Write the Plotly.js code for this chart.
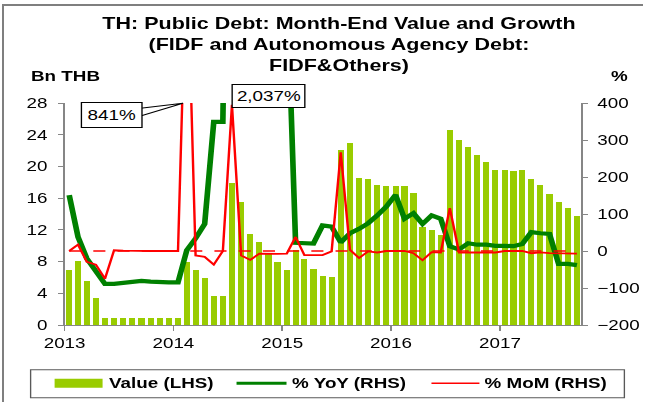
<!DOCTYPE html>
<html>
<head>
<meta charset="utf-8">
<script src="https://cdn.plot.ly/plotly-3.0.1.min.js"></script>
<style>
html,body{margin:0;padding:0;background:#fff;overflow:hidden;}
#wrap{position:absolute;left:0;top:0;width:646px;height:402px;overflow:hidden;background:#fff;}
#chart{position:absolute;left:0;top:0;width:480px;height:402px;transform-origin:0 0;transform:scaleX(1.3458333);}
.bl{position:absolute;background:#7f7f7f;}
</style>
</head>
<body>
<div id="wrap">
  <div id="chart"></div>
  <div class="bl" style="left:2px;top:4px;width:2px;height:398px;"></div>
  <div class="bl" style="left:2px;top:4px;width:641px;height:2px;"></div>
</div>
<script>
// ---- data ----
var months = [
 '2013-01','2013-02','2013-03','2013-04','2013-05','2013-06','2013-07','2013-08','2013-09','2013-10','2013-11','2013-12',
 '2014-01','2014-02','2014-03','2014-04','2014-05','2014-06','2014-07','2014-08','2014-09','2014-10','2014-11','2014-12',
 '2015-01','2015-02','2015-03','2015-04','2015-05','2015-06','2015-07','2015-08','2015-09','2015-10','2015-11','2015-12',
 '2016-01','2016-02','2016-03','2016-04','2016-05','2016-06','2016-07','2016-08','2016-09','2016-10','2016-11','2016-12',
 '2017-01','2017-02','2017-03','2017-04','2017-05','2017-06','2017-07','2017-08','2017-09'
];
var valueBn = [
 7.0, 8.1, 5.6, 3.4, 0.86, 0.86, 0.86, 0.86, 0.86, 0.86, 0.86, 0.86,
 0.86, 7.95, 7.0, 5.9, 3.7, 3.7, 17.9, 15.5, 11.5, 10.5, 9.0, 8.0,
 7.0, 9.5, 8.3, 7.1, 6.2, 6.1, 22.1, 23.0, 18.5, 18.4, 17.6, 17.5,
 17.5, 17.5, 16.6, 12.3, 12.0, 11.35, 24.6, 23.3, 22.4, 21.4, 20.5, 19.6,
 19.6, 19.4, 19.5, 18.4, 17.6, 16.5, 15.5, 14.7, 13.7
];
var yoyPct = [
 151, 38, -20, -52, -89, -89, -86, -83, -81, -83, -85, -85,
 -85, 2, 34, 73, 349, 349, 2037, 1745, 1269, 1150, 971, 852,
 733, 22, 20, 20, 69, 66, 23, 48, 60, 75, 96, 120,
 152, 87, 102, 73, 96, 87, 13, 4, 21, 17, 17, 14,
 14, 13, 19, 51, 48, 46, -35, -35, -38
];
var momPct = [
 0, 17, -29, -37, -75, 2, 1, 0, 0, 0, 0, 0,
 0, 841, -12, -16, -37, 0, 395, -12, -24, -7, -8, -8,
 -7, 38, -11, -11, -11, -1, 267, 3, -19, -1, -4, 0,
 0, 0, -6, -25, -3, -4, 116, -4, -4, -4, -4, -4,
 0, -1, 0, -6, -4, -6, -6, -5, -7
];
var yearTicks = ['2013-01-01','2014-01-01','2015-01-01','2016-01-01','2017-01-01'];
var yearLabels = ['2013','2014','2015','2016','2017'];
var titleLines = ['TH: Public Debt: Month-End Value and Growth','(FIDF and Autonomous Agency Debt:','FIDF&Others)'];
var seriesNames = ['Value (LHS)','% YoY (RHS)','% MoM (RHS)'];

// ---- styling helpers (positions measured on the 646x402 reference) ----
var FONT = 'Liberation Sans, Arial, sans-serif';
var px = function(X){ return (X - 65) / 517; };   // paper x from reference pixel
var py = function(Y){ return (325 - Y) / 223; };  // paper y from reference pixel
var S = 646 / 480;
var GREEN_BAR = '#99CC00', GREEN_LINE = '#008000', RED = '#FF0000', AXIS = '#868686';

var traces = [
 {type:'bar', x: months, y: valueBn, name: seriesNames[0], xperiod:'M1', xperiodalignment:'middle',
  width: 20.5*86400000, marker:{color: GREEN_BAR}, yaxis:'y', showlegend:false, hoverinfo:'x+y'},
 {type:'scatter', mode:'lines', x: months, y: yoyPct, name: seriesNames[1], xperiod:'M1', xperiodalignment:'middle',
  line:{color: GREEN_LINE, width: 4.2}, yaxis:'y2', showlegend:false},
 {type:'scatter', mode:'lines', x: months, y: momPct, name: seriesNames[2], xperiod:'M1', xperiodalignment:'middle',
  line:{color: RED, width: 1.8}, yaxis:'y2', showlegend:false}
];

var legY = py(383.5);
var calloutPath = 'M ' + px(141) + ' ' + py(107.3) + ' L ' + px(183.3) + ' ' + py(102.3) +
                  ' L ' + px(141) + ' ' + py(115) + ' Z';
var shapes = [
 // dashed zero reference line on the right axis
 {type:'line', xref:'x', yref:'y2', x0: months[0]+'-16', x1: months[months.length-1]+'-15', y0:0, y1:0,
  line:{color: RED, width:1.5, dash:'dash'}, layer:'above'},
 // callout wedge of the 841% label
 {type:'path', xref:'paper', yref:'paper', path: calloutPath, fillcolor:'#fff', line:{color:'#000', width:1}, layer:'above'},
 // legend frame and swatches
 {type:'rect', xref:'paper', yref:'paper', x0:px(31), x1:px(625), y0:py(398), y1:py(370),
  line:{color:'#595959', width:1}, fillcolor:'rgba(0,0,0,0)'},
 {type:'rect', xref:'paper', yref:'paper', x0:px(55), x1:px(103), y0:py(388), y1:py(379),
  line:{width:0}, fillcolor: GREEN_BAR},
 {type:'line', xref:'paper', yref:'paper', x0:px(237), x1:px(287), y0:legY, y1:legY,
  line:{color: GREEN_LINE, width:3}},
 {type:'line', xref:'paper', yref:'paper', x0:px(432), x1:px(480), y0:legY, y1:legY,
  line:{color: RED, width:1.5}}
];

var bold14 = {family: FONT, size: 14, color: '#000', weight: 'bold'};
var annotations = [
 {xref:'paper', yref:'paper', x:px(28), y:py(75), xanchor:'left', yanchor:'middle', text:'Bn THB', showarrow:false, font:bold14},
 {xref:'paper', yref:'paper', x:px(621), y:py(75), xanchor:'center', yanchor:'middle', text:'%', showarrow:false, font:bold14},
 {xref:'paper', yref:'paper', x:px(112.5), y:py(114.5), xanchor:'center', yanchor:'middle', text:'841%', showarrow:false,
  bordercolor:'#000', borderwidth:1, borderpad:4, bgcolor:'#fff', font:{family:FONT, size:14, color:'#000'}},
 {xref:'paper', yref:'paper', x:px(269.5), y:py(94.5), xanchor:'center', yanchor:'middle', text:'2,037%', showarrow:false,
  bordercolor:'#000', borderwidth:1, borderpad:3, bgcolor:'#fff', font:{family:FONT, size:14, color:'#000'}},
 {xref:'paper', yref:'paper', x:px(107), y:legY, xanchor:'left', yanchor:'middle', text:seriesNames[0], showarrow:false, font:bold14},
 {xref:'paper', yref:'paper', x:px(290), y:legY, xanchor:'left', yanchor:'middle', text:seriesNames[1], showarrow:false, font:bold14},
 {xref:'paper', yref:'paper', x:px(483), y:legY, xanchor:'left', yanchor:'middle', text:seriesNames[2], showarrow:false, font:bold14}
];

var layout = {
 width: 480, height: 402,
 margin: {l: 65/S, r: (646-582)/S, t: 102.5, b: 77, pad: 0},
 paper_bgcolor: 'rgba(0,0,0,0)', plot_bgcolor: 'rgba(0,0,0,0)',
 font: {family: FONT, size: 14, color: '#000'},
 title: {text: titleLines.join('<br>'), font: {family: FONT, size: 16, color: '#000', weight: 'bold'},
  xref: 'container', yref: 'container', x: 339/646, xanchor: 'center', y: 1 - 29/402, yanchor: 'middle'},
 showlegend: false,
 bargap: 0,
 xaxis: {type: 'date', range: ['2013-01-01', '2017-10-01'], tickmode: 'array', tickvals: yearTicks, ticktext: yearLabels,
  showgrid: false, zeroline: false, showline: true, linecolor: AXIS, linewidth: 1,
  ticks: 'outside', ticklen: 5, tickcolor: AXIS, tickwidth: 1, ticklabelshift: 3.3,
  tickfont: {family: FONT, size: 14, color: '#000'}},
 yaxis: {range: [0, 28], tickmode: 'linear', tick0: 0, dtick: 4, showgrid: false, zeroline: false,
  showline: true, linecolor: AXIS, linewidth: 1, ticks: 'outside', ticklen: 4, tickcolor: AXIS, tickwidth: 1,
  ticklabelstandoff: 5, tickfont: {family: FONT, size: 14, color: '#000'}},
 yaxis2: {range: [-200, 400], tickmode: 'linear', tick0: -200, dtick: 100, overlaying: 'y', side: 'right',
  showgrid: false, zeroline: false, showline: true, linecolor: AXIS, linewidth: 1, ticks: 'outside', ticklen: 4,
  tickcolor: AXIS, tickwidth: 1, ticklabelstandoff: 4, tickfont: {family: FONT, size: 14, color: '#000'}},
 shapes: shapes,
 annotations: annotations
};

Plotly.newPlot('chart', traces, layout, {displayModeBar: false, staticPlot: true});
</script>
</body>
</html>
